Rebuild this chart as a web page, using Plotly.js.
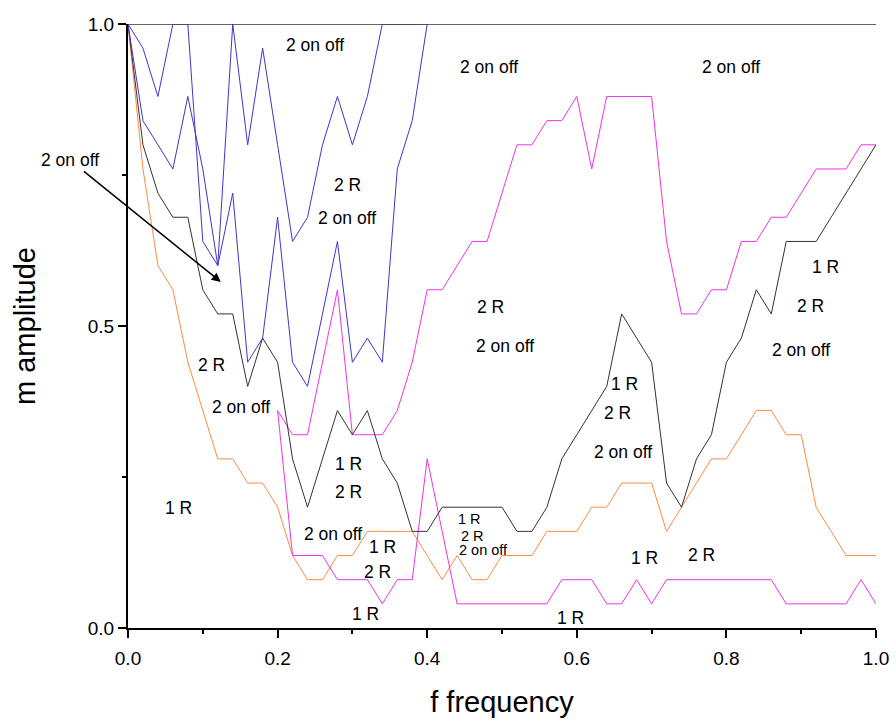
<!DOCTYPE html>
<html>
<head>
<meta charset="utf-8">
<script src="https://cdn.plot.ly/plotly-3.0.1.min.js"></script>
<style>html,body{margin:0;padding:0;background:#fff;}#chart{width:896px;height:722px;}</style>
</head>
<body>
<div id="chart"></div>
<script>
// frequency grid (f)
const freq = [0.00,0.02,0.04,0.06,0.08,0.10,0.12,0.14,0.16,0.18,
              0.20,0.22,0.24,0.26,0.28,0.30,0.32,0.34,0.36,0.38,
              0.40,0.42,0.44,0.46,0.48,0.50,0.52,0.54,0.56,0.58,
              0.60,0.62,0.64,0.66,0.68,0.70,0.72,0.74,0.76,0.78,
              0.80,0.82,0.84,0.86,0.88,0.90,0.92,0.94,0.96,0.98,1.00];

// blue series (visible only up to f = 0.40, clipped at 1.0 afterwards)
const blueA = [1.00,0.96,0.88,1.00,1.00,0.64,0.60,1.00,0.80,0.96,
               0.80,0.64,0.68,0.80,0.88,0.80,0.88,1.00,1.00,1.00,1.00];
const blueB = [1.00,0.84,0.80,0.76,0.88,0.76,0.60,0.72,0.44,0.48,
               0.68,0.44,0.40,0.52,0.64,0.44,0.48,0.44,0.76,0.84,1.00];

const blackS = [1.00,0.80,0.72,0.68,0.68,0.56,0.52,0.52,0.40,0.48,
                0.44,0.28,0.20,0.28,0.36,0.32,0.36,0.28,0.24,0.16,
                0.16,0.20,0.20,0.20,0.20,0.20,0.16,0.16,0.20,0.28,
                0.32,0.36,0.40,0.52,0.48,0.44,0.24,0.20,0.28,0.32,
                0.44,0.48,0.56,0.52,0.64,0.64,0.64,0.68,0.72,0.76,0.80];

const orangeS = [1.00,0.76,0.60,0.56,0.44,0.36,0.28,0.28,0.24,0.24,
                 0.20,0.12,0.08,0.08,0.12,0.12,0.16,0.16,0.16,0.16,
                 0.12,0.08,0.12,0.08,0.08,0.12,0.12,0.12,0.16,0.16,
                 0.16,0.20,0.20,0.24,0.24,0.24,0.16,0.20,0.24,0.28,
                 0.28,0.32,0.36,0.36,0.32,0.32,0.20,0.16,0.12,0.12,0.12];

// magenta series start at f = 0.20
const magentaHigh = [null,null,null,null,null,null,null,null,null,null,
                     0.36,0.32,0.32,0.44,0.56,0.32,0.32,0.32,0.36,0.44,
                     0.56,0.56,0.60,0.64,0.64,0.72,0.80,0.80,0.84,0.84,
                     0.88,0.76,0.88,0.88,0.88,0.88,0.64,0.52,0.52,0.56,
                     0.56,0.64,0.64,0.68,0.68,0.72,0.76,0.76,0.76,0.80,0.80];
const magentaLow = [null,null,null,null,null,null,null,null,null,null,
                    0.36,0.12,0.12,0.12,0.08,0.08,0.08,0.04,0.08,0.08,
                    0.28,0.16,0.04,0.04,0.04,0.04,0.04,0.04,0.04,0.08,
                    0.08,0.08,0.04,0.04,0.08,0.04,0.08,0.08,0.08,0.08,
                    0.08,0.08,0.08,0.08,0.04,0.04,0.04,0.04,0.04,0.08,0.04];

// in-plot labels
const labelText = ["2 on off","2 on off","2 on off","2 R","2 on off","2 R","2 on off",
                   "1 R","2 R","2 on off","2 R","2 on off","1 R","2 R",
                   "1 R","2 R","2 on off","1 R","2 on off","1 R","2 R","1 R",
                   "1 R","2 R","2 on off","1 R","2 R","1 R"];
const labelF = [0.250,0.483,0.806,0.293,0.293,0.485,0.504,
                0.933,0.912,0.900,0.111,0.151,0.295,0.295,
                0.664,0.655,0.662,0.068,0.274,0.340,0.334,0.318,
                0.456,0.461,0.475,0.691,0.767,0.591];
const labelM = [0.965,0.929,0.929,0.733,0.679,0.531,0.467,
                0.598,0.533,0.460,0.435,0.366,0.272,0.225,
                0.404,0.356,0.291,0.199,0.156,0.134,0.093,0.023,
                0.181,0.153,0.129,0.116,0.121,0.017];
const labelSize = [17.5,17.5,17.5,17.5,17.5,17.5,17.5,
                   17.5,17.5,17.5,17.5,17.5,17.5,17.5,
                   17.5,17.5,17.5,17.5,17.5,17.5,17.5,17.5,
                   14.5,14.5,14.5,17.5,17.5,17.5];

// arrow label: text position and arrow head
const arrowText = "2 on off";
const arrowFrom = [-0.078, 0.775];
const arrowTo = [0.124, 0.573];

const FONT = "Liberation Sans, Arial, sans-serif";
const BLUE = "#4433cc", MAG = "#ee33e6", ORANGE = "#ff8a40", BLACK = "#333333";

const line = (y, color, xs) => ({
  x: xs || freq, y: y, type: "scatter", mode: "lines",
  line: {color: color, width: 1}, hoverinfo: "skip", showlegend: false
});

const traces = [
  line(orangeS, ORANGE),
  line(magentaLow, MAG),
  line(magentaHigh, MAG),
  line(blackS, BLACK),
  line(blueB, BLUE, freq.slice(0, blueB.length)),
  line(blueA, BLUE, freq.slice(0, blueA.length))
];

const annotations = labelText.map((t, i) => ({
  x: labelF[i], y: labelM[i], xref: "x", yref: "y", text: t, showarrow: false,
  font: {family: FONT, size: labelSize[i], color: "#000"}
}));
annotations.push({
  x: arrowTo[0], y: arrowTo[1], xref: "x", yref: "y",
  ax: arrowFrom[0], ay: arrowFrom[1], axref: "x", ayref: "y",
  text: arrowText, showarrow: true, arrowhead: 2, arrowsize: 1.2, arrowwidth: 1.5,
  arrowcolor: "#000", font: {family: FONT, size: 17.5, color: "#000"}
});

const axisCommon = {
  showline: true, linecolor: "#000", linewidth: 2, mirror: false,
  ticks: "outside", ticklen: 8, tickwidth: 2, tickcolor: "#000",
  showgrid: false, zeroline: false, tickformat: ".1f",
  tickfont: {family: FONT, size: 19, color: "#000"}
};

const layout = {
  width: 896, height: 722,
  margin: {l: 128, r: 20, t: 24, b: 94},
  paper_bgcolor: "#fff", plot_bgcolor: "#fff",
  font: {family: FONT, color: "#000"},
  xaxis: Object.assign({}, axisCommon, {
    range: [0, 1], tick0: 0, dtick: 0.2, ticklabelstandoff: 4,
    minor: {dtick: 0.1, ticks: "outside", ticklen: 4, tickwidth: 2, tickcolor: "#000"},
    title: {text: "f frequency", font: {family: FONT, size: 29, color: "#000"}, standoff: 24}
  }),
  yaxis: Object.assign({}, axisCommon, {
    range: [0, 1], tick0: 0, dtick: 0.5,
    minor: {dtick: 0.25, ticks: "outside", ticklen: 4, tickwidth: 2, tickcolor: "#000"},
    title: {text: "m amplitude", font: {family: FONT, size: 29, color: "#000"}, standoff: 44}
  }),
  shapes: [{type: "line", xref: "paper", yref: "y", x0: 0, x1: 1, y0: 1, y1: 1,
            line: {color: "#333", width: 1.5}}],
  annotations: annotations
};

Plotly.newPlot("chart", traces, layout, {displayModeBar: false, staticPlot: true});
</script>
</body>
</html>
